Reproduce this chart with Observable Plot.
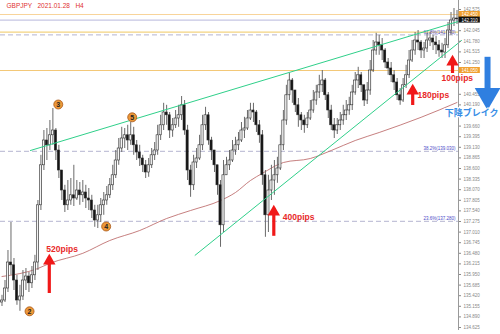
<!DOCTYPE html>
<html><head><meta charset="utf-8">
<script src="https://cdn.jsdelivr.net/npm/d3@7"></script>
<script src="https://cdn.jsdelivr.net/npm/@observablehq/plot@0.6"></script>
<style>body{margin:0;background:#fff;overflow:hidden} svg{display:block}</style>
</head><body><div id="chart"></div>
<script>
const title = "GBPJPY   2021.01.28   H4";
const firstOpen = 135.25;
const closes = [135.30,135.60,136.25,136.18,135.80,135.30,135.40,135.80,135.90,135.73,135.93,136.25,137.68,138.68,139.30,139.18,139.43,139.55,139.05,138.55,138.05,137.68,137.80,137.93,137.85,138.05,137.93,138.00,137.85,137.80,137.55,137.30,137.43,137.68,137.80,137.93,138.18,138.43,138.80,139.10,139.35,139.43,139.30,139.43,139.18,139.00,138.85,138.68,138.50,138.68,138.93,139.05,139.43,139.68,140.00,139.93,139.55,139.68,139.85,139.93,140.18,139.55,138.55,138.18,138.75,138.85,139.18,139.68,139.93,139.30,139.05,138.68,138.18,137.18,138.43,138.68,138.80,139.05,139.18,139.30,139.55,139.60,139.85,140.05,140.00,139.68,139.43,138.43,137.43,138.05,138.30,138.43,138.60,139.18,139.80,140.43,140.80,140.55,140.18,139.93,139.80,139.68,139.85,140.05,140.30,140.50,140.68,140.80,140.43,140.05,139.68,139.55,139.68,139.80,139.93,140.05,140.18,140.50,140.80,140.93,140.68,140.30,140.55,141.05,141.55,141.75,141.68,141.55,141.25,141.10,140.93,140.75,140.43,140.30,140.68,140.93,141.30,141.55,141.80,141.75,141.55,141.60,141.80,141.85,141.75,141.68,141.55,141.50,141.68,142.05,142.30,142.35,142.33];
const highs = [135.43,135.80,136.55,137.25,136.35,135.93,135.68,136.05,136.10,136.00,136.15,136.43,137.80,138.93,139.55,139.60,139.80,140.10,139.60,139.18,138.55,138.18,138.30,138.35,138.68,138.30,138.25,138.30,138.18,138.10,137.93,137.68,137.68,137.85,138.00,138.15,138.35,138.68,139.05,139.35,139.63,139.60,139.68,139.75,139.63,139.30,139.18,138.93,138.80,138.85,139.10,139.25,139.68,139.93,140.23,140.18,140.00,139.85,140.05,140.18,140.40,140.30,139.68,138.68,138.93,139.10,139.43,139.93,140.13,140.00,139.38,139.05,138.68,138.30,138.80,138.88,139.05,139.30,139.38,139.50,139.75,139.88,140.05,140.23,140.23,140.05,139.80,139.55,138.55,138.43,138.68,138.80,138.88,139.43,140.05,140.68,140.98,140.85,140.55,140.35,140.00,139.93,140.00,140.30,140.55,140.68,140.93,141.05,140.85,140.50,140.18,139.85,139.85,140.00,140.18,140.30,140.38,140.68,141.00,141.13,141.00,140.68,140.75,141.30,141.80,141.98,141.93,141.85,141.60,141.35,141.25,141.05,140.85,140.60,140.85,141.18,141.55,141.80,142.00,142.05,141.80,141.75,141.98,142.00,141.93,141.90,141.80,141.73,141.85,142.25,142.50,142.60,142.55];
const lows = [135.15,135.25,135.50,135.93,135.55,135.18,135.03,135.30,135.55,135.50,135.60,135.80,136.05,137.55,138.55,138.80,139.05,139.18,138.80,138.35,137.80,137.50,137.55,137.68,137.65,137.80,137.68,137.75,137.60,137.55,137.35,137.13,137.10,137.25,137.43,137.68,137.85,138.05,138.35,138.68,139.00,139.10,139.05,139.18,138.93,138.80,138.65,138.50,138.35,138.38,138.60,138.80,138.93,139.30,139.55,139.68,139.35,139.38,139.60,139.63,139.80,139.43,138.30,137.88,138.05,138.60,138.80,139.05,139.55,139.18,138.80,138.50,137.93,136.63,137.00,138.43,138.55,138.75,138.93,139.05,139.25,139.35,139.55,139.80,139.75,139.50,139.23,138.18,136.88,137.00,137.80,137.93,138.23,138.55,139.05,139.68,140.30,140.23,140.00,139.63,139.55,139.48,139.60,139.80,139.98,140.18,140.35,140.50,140.30,139.85,139.55,139.35,139.45,139.55,139.68,139.80,139.93,140.05,140.43,140.60,140.50,140.15,140.20,140.43,141.00,141.43,141.43,141.30,141.10,140.93,140.75,140.55,140.30,140.18,140.25,140.60,140.85,141.25,141.43,141.55,141.35,141.35,141.50,141.65,141.55,141.45,141.38,141.35,141.35,141.60,141.93,142.15,142.20];

const maIndex = [0,12,16,27,36,46,55,63,73,78,83,87,94,103,110,118,126,140,152];
const maValue = [135.90,136.10,136.23,136.48,136.80,137.05,137.35,137.55,137.80,138.00,138.30,138.48,138.75,138.85,139.05,139.30,139.50,139.88,140.25];

const upperTrendIndex = [9.5,153.5];
const upperTrendPrice = [139.05,142.30];
const lowerTrendIndex = [64.5,153.5];
const lowerTrendPrice = [136.43,141.80];

const solidLevels = [142.45,142.31,142.01,141.05];
const solidColors = ["#f8d49a","#b8b8dc","#f0c860","#f3c878"];
const dashedLevels = [141.94,139.03,137.28];
const fibLabels = ["61.8%(141.940)","38.2%(139.030)","23.6%(137.280)"];

const yTicks = [142.575,142.045,141.780,141.515,141.250,140.455,140.190,139.660,139.395,139.130,138.865,138.600,138.335,138.070,137.805,137.540,137.275,137.010,136.745,136.480,136.215,135.950,135.685,135.420,135.155,134.890,134.625];
const priceBoxes = [142.45,142.31,141.05];
const priceBoxColors = ["#f0a030","#111111","#f0a030"];

const waveLabels = ["2","3","4","5"];
const waveIndex = [9.2,18.8,34.8,43.5];
const wavePrice = [135.03,140.20,137.15,139.88];

const pipLabels = ["520pips","400pips","180pips","100pips"];
const pipTextIndex = [14.8,93.8,138.8,146.8];
const pipTextPrice = [136.58,137.38,140.43,140.85];
const arrowIndex = [15.8,90.8,137.2,150.5];
const arrowTip = [136.38,137.60,140.63,141.35];
const arrowBase = [135.60,137.03,140.30,141.10];

const breakLabel = "下降ブレイク";
const breakIndex = 165.9, breakPrice = 139.98;
const blueArrowIndex = 162.2, blueArrowTop = 141.38, blueArrowTip = 140.25;

const candles = closes.map((c, i) => {
  const o = i ? closes[i - 1] : firstOpen;
  return {i, o, c, h: Math.max(highs[i], o, c), l: Math.min(lows[i], o, c)};
});
const ma = maIndex.map((i, k) => ({i, v: maValue[k]}));
const up = upperTrendIndex.map((i, k) => ({i, p: upperTrendPrice[k]}));
const lo = lowerTrendIndex.map((i, k) => ({i, p: lowerTrendPrice[k]}));
const solids = solidLevels.map((p, k) => ({p, color: solidColors[k]}));
const dashed = dashedLevels.map((p, k) => ({p, label: fibLabels[k]}));
const boxes = priceBoxes.map((p, k) => ({p, color: priceBoxColors[k]}));
const waves = waveLabels.map((t, k) => ({t, i: waveIndex[k], p: wavePrice[k]}));
const pips = pipLabels.map((t, k) => ({t, i: pipTextIndex[k], p: pipTextPrice[k], ai: arrowIndex[k], tip: arrowTip[k], base: arrowBase[k]}));
const lastI = d3.max(candles, d => d.i);

const chart = Plot.plot({
  width: 500, height: 334,
  marginLeft: 0, marginRight: 42, marginTop: 0, marginBottom: 4,
  x: {domain: [-0.5, lastI + 0.5], axis: null},
  y: {domain: [134.55, 142.8], axis: null},
  style: {background: "#fff", fontFamily: "Liberation Sans, Arial, sans-serif"},
  marks: [
    Plot.ruleY(solids, {y: "p", stroke: "color", strokeWidth: 1}),
    Plot.ruleY(dashed, {y: "p", stroke: "#b4b4d0", strokeWidth: 1, strokeDasharray: "5,3"}),
    Plot.text(dashed, {x: lastI - 0.5, y: "p", text: "label", textAnchor: "end", dy: -2.5, fontSize: 4.5, fill: "#4b4bc8"}),
    Plot.line(ma, {x: "i", y: "v", stroke: "#b86060", strokeWidth: 0.8, curve: "monotone-x"}),
    Plot.ruleX(candles, {x: "i", y1: "l", y2: "h", stroke: "#6a6a6a", strokeWidth: 1}),
    Plot.rect(candles, {x1: d => d.i - 0.36, x2: d => d.i + 0.36, y1: "o", y2: "c",
      fill: d => d.c >= d.o ? "#f4f4f4" : "#151515", stroke: "#2a2a2a", strokeWidth: 0.6}),
    Plot.line(up, {x: "i", y: "p", stroke: "#2fd08a", strokeWidth: 1}),
    Plot.line(lo, {x: "i", y: "p", stroke: "#2fd08a", strokeWidth: 1}),
    Plot.ruleX([lastI + 0.5], {stroke: "#999", strokeWidth: 1}),
    Plot.axisY(yTicks, {anchor: "right", tickSize: 2, tickPadding: 3, fontSize: 4.5, color: "#888", tickFormat: d => d.toFixed(3)}),
    Plot.rect(boxes, {x1: lastI + 0.7, x2: lastI + 7.8, y1: d => d.p - 0.075, y2: d => d.p + 0.075, fill: "color"}),
    Plot.text(boxes, {x: lastI + 4.2, y: "p", text: d => d.p.toFixed(3), fill: "#fff", fontSize: 4.5}),
    Plot.ruleX([{i: blueArrowIndex, a: blueArrowTop, b: blueArrowTip}], {x: "i", y1: "a", y2: "b", stroke: "#2f7fe0", strokeWidth: 6, insetBottom: 14}),
    Plot.dot([{i: blueArrowIndex, p: blueArrowTip}], {x: "i", y: "p", symbol: "triangle", rotate: 180, r: 9.5, fill: "#2f7fe0", dy: -7}),
    Plot.text([breakLabel], {x: breakIndex, y: breakPrice, text: d => d, textAnchor: "end", fill: "#3a8ee6", fontWeight: "bold", fontSize: 9, fontFamily: "Noto Sans CJK JP", stroke: "#fff", strokeWidth: 2, paintOrder: "stroke"}),
    Plot.ruleX(pips, {x: "ai", y1: "base", y2: "tip", stroke: "#f01818", strokeWidth: 3.2, insetTop: 5}),
    Plot.dot(pips, {x: "ai", y: "tip", symbol: "triangle", r: 4.6, fill: "#f01818", dy: 3.5}),
    Plot.text(pips, {x: "i", y: "p", text: "t", textAnchor: "start", fill: "#e82a2a", fontWeight: "bold", fontSize: 8.5}),
    Plot.dot(waves, {x: "i", y: "p", r: 4.5, fill: "#ec9838", stroke: "#a8581a", strokeWidth: 0.8}),
    Plot.text(waves, {x: "i", y: "p", text: "t", fill: "#222", fontWeight: "bold", fontSize: 7}),
    Plot.text([title], {frameAnchor: "top-left", dx: 6, dy: 3, text: d => d, fill: "#e03030", fontSize: 6.5})
  ]
});
document.getElementById("chart").append(chart);
</script>
</body></html>
